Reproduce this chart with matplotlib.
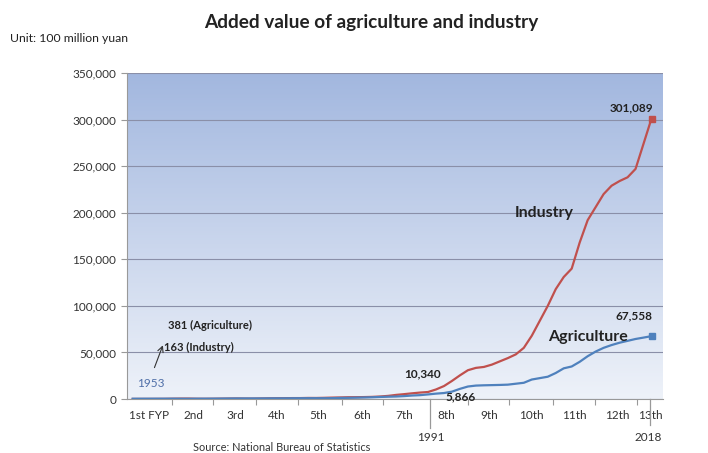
import numpy as np
import matplotlib.pyplot as plt
from matplotlib.ticker import FuncFormatter, FixedLocator
from matplotlib.colors import LinearSegmentedColormap

plt.rcParams['font.family'] = ['Lato', 'DejaVu Sans']

# data (100 million yuan)
years = list(range(1953, 2019))
industry = [163, 184, 191, 224, 271, 415, 538, 568, 357, 325,
            367, 461, 546, 649, 545, 502, 647, 828, 926, 989,
            1073, 1085, 1244, 1205, 1373, 1607, 1770, 1997, 2048, 2163,
            2376, 2789, 3448, 4500, 5300, 6200, 7000, 7600, 10340, 14000,
            19500, 25500, 31000, 33500, 34500, 37000, 40500, 44000, 48000, 55000,
            68000, 84000, 100000, 118000, 131000, 140000, 168000, 192000, 206000, 220000,
            229000, 234000, 238000, 247000, 274000, 301089]
agriculture = [381, 400, 420, 440, 430, 445, 383, 340, 440, 453,
               497, 559, 651, 702, 714, 726, 736, 793, 826, 837,
               907, 945, 971, 967, 942, 1018, 1259, 1359, 1545, 1761,
               1960, 2295, 2541, 2764, 3204, 3831, 4228, 5017, 5866, 6500,
               8000, 11000, 13500, 14500, 14800, 15000, 15200, 15500, 16500, 17500,
               21000, 22500, 24000, 28000, 33000, 35000, 40000, 46000, 51000, 55000,
               58000, 60500, 62500, 64500, 66000, 67558]
fyp_labels = ['1st FYP', '2nd', '3rd', '4th', '5th', '6th', '7th',
              '8th', '9th', '10th', '11th', '12th', '13th']
fyp_centers = [1955.1, 1960.6, 1965.8, 1971.0, 1976.3, 1981.7, 1987.0,
               1992.3, 1997.7, 2003.0, 2008.3, 2013.7, 2017.8]
fyp_bounds = [1957.9, 1963.0, 1968.5, 1973.7, 1979.2, 1984.3,
              1995.0, 2000.2, 2005.6, 2010.9, 2016.2]

red = '#c0504d'
blue = '#4f81bd'

fig = plt.figure(figsize=(7.08, 4.53), dpi=100)
ax = fig.add_axes([0.179, 0.119, 0.757, 0.72])

# gradient background
grad = np.linspace(0, 1, 256).reshape(-1, 1)
cmap = LinearSegmentedColormap.from_list('bg', ['#a2b7df', '#eef2f9'])
ax.imshow(grad, extent=[0, 1, 0, 1], transform=ax.transAxes, cmap=cmap,
          aspect='auto', zorder=0)

ax.plot(years, industry, color=red, lw=1.6, zorder=3)
ax.plot(years, agriculture, color=blue, lw=1.6, zorder=3)
ax.plot(years[-1], industry[-1], 's', color=red, ms=4, zorder=4)
ax.plot(years[-1], agriculture[-1], 's', color=blue, ms=4, zorder=4)

ax.set_xlim(1952.25, 2019.4)
ax.set_ylim(0, 350000)
ax.yaxis.set_major_locator(FixedLocator(np.arange(0, 350001, 50000)))
ax.yaxis.set_major_formatter(FuncFormatter(lambda v, p: f'{int(v):,}'))
ax.grid(axis='y', color='#8a8fa8', lw=0.8, zorder=1)

ax.set_xticks(fyp_bounds)
ax.set_xticklabels([])
ax.set_xticks(fyp_centers, minor=True)
ax.set_xticklabels(fyp_labels, minor=True)
ax.tick_params(axis='x', which='minor', length=0, pad=8, labelsize=8.5, colors='#333333')
ax.tick_params(axis='x', which='major', length=4, color='#999999', direction='out')
ax.tick_params(axis='y', length=4, color='#999999', labelsize=8.5, labelcolor='#333333')

for s in ['top', 'right']:
    ax.spines[s].set_visible(False)
ax.spines['left'].set_color('#999999')
ax.spines['bottom'].set_color('#999999')

# long tick lines for 1991 and 2018
trans = ax.get_xaxis_transform()
ax.plot([1990.2, 1990.2], [0, -0.09], transform=trans, color='#999999', lw=0.9, clip_on=False)
ax.plot([2017.8, 2017.8], [0, -0.08], transform=trans, color='#999999', lw=0.9, clip_on=False)
ax.text(1990.3, -0.1, '1991', transform=trans, ha='center', va='top', fontsize=8.5, color='#333333')
ax.text(2017.6, -0.1, '2018', transform=trans, ha='center', va='top', fontsize=8.5, color='#333333')

# annotations
ax.annotate('301,089', (years[-1], industry[-1]), xytext=(1, 4), textcoords='offset points',
            ha='right', va='bottom', fontsize=8.5, fontweight='bold', color='#222222')
ax.annotate('67,558', (years[-1], agriculture[-1]), xytext=(1, 11), textcoords='offset points',
            ha='right', va='bottom', fontsize=8.5, fontweight='bold', color='#222222')
ax.annotate('10,340', (1991, industry[38]), xytext=(-10, 7), textcoords='offset points',
            ha='center', va='bottom', fontsize=8.5, fontweight='bold', color='#222222')
ax.annotate('5,866', (1991, agriculture[38]), xytext=(7, -2), textcoords='offset points',
            ha='left', va='center', fontsize=8.5, fontweight='bold', color='#222222')
ax.text(2000.9, 200000, 'Industry', fontsize=11.5, fontweight='bold', color='#222222', va='center')
ax.text(2005.0, 67000, 'Agriculture', fontsize=11.5, fontweight='bold', color='#222222', va='center')
ax.text(1957.4, 79000, '381 (Agriculture)', fontsize=8, fontweight='bold', color='#222222', va='center')
ax.text(1956.9, 55500, '163 (Industry)', fontsize=8, fontweight='bold', color='#222222', va='center')
ax.annotate('', xy=(1956.9, 60500), xytext=(1955.6, 31000),
            arrowprops=dict(arrowstyle='->', color='#333333', lw=0.8))
ax.text(1953.6, 17000, '1953', fontsize=8.5, color='#4f6fa8', va='center')

fig.text(0.014, 0.916, 'Unit: 100 million yuan', fontsize=8.8, color='#222222', va='center')
fig.text(0.524, 0.951, 'Added value of agriculture and industry', fontsize=13.7, fontweight='bold',
         color='#222222', ha='center', va='center')
fig.text(0.273, 0.013, 'Source: National Bureau of Statistics', fontsize=7.9, color='#333333', va='center')

plt.savefig('out.png', dpi=100)
